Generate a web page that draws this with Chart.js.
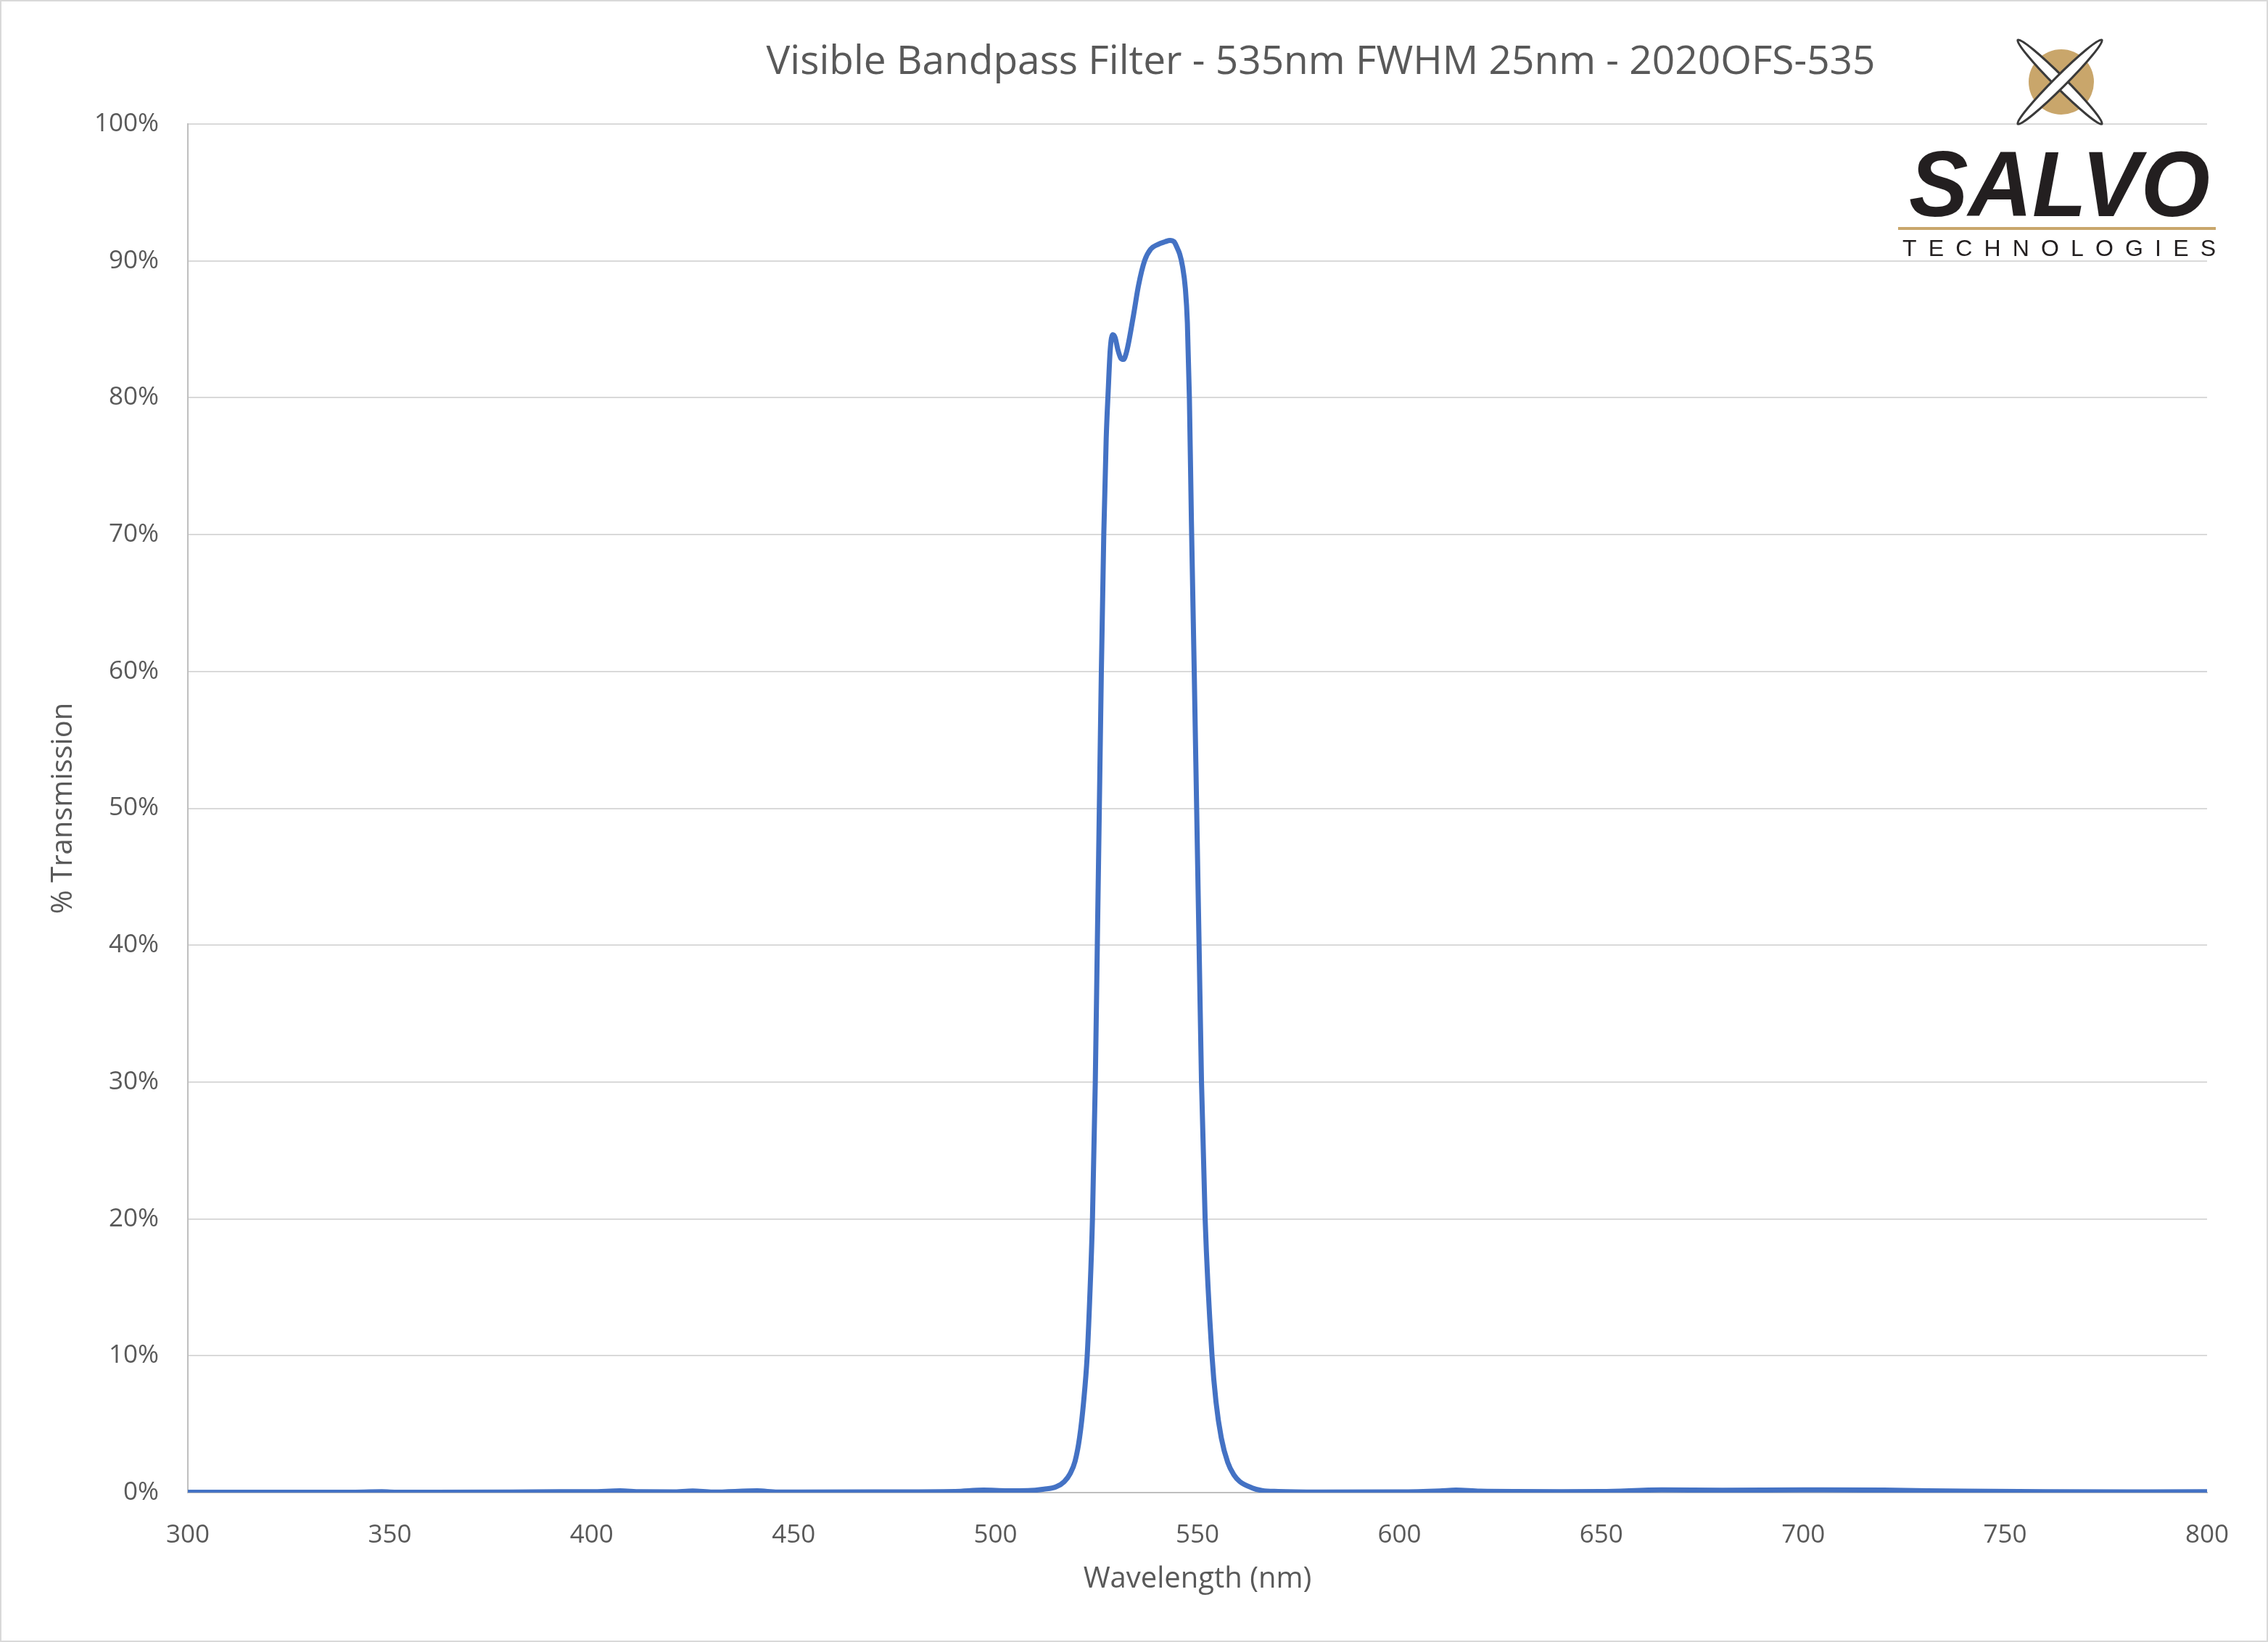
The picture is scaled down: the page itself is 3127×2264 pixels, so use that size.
<!DOCTYPE html>
<html>
<head>
<meta charset="utf-8">
<script src="https://cdn.jsdelivr.net/npm/chart.js@4.4.1/dist/chart.umd.min.js"></script>
<style>
  html, body { margin: 0; padding: 0; background: #ffffff; }
  #wrap { width: 3127px; height: 2264px; }
</style>
</head>
<body>
<div id="wrap"><canvas id="filterChart" width="3127" height="2264"></canvas></div>
<script>
const chartTitle = "Visible Bandpass Filter - 535nm FWHM 25nm - 2020OFS-535";
const xTitle = "Wavelength (nm)";
const yTitle = "% Transmission";

// wavelength in nm
const wavelength = [
    300, 320, 340, 348, 352, 380, 392, 400, 407, 412,
    420, 425, 430, 441, 446, 470, 490, 497, 503, 508,
    512, 515, 517, 518.5, 519.7, 520.8, 521.8, 522.7, 523.3, 524,
    524.7, 525.2, 525.7, 526.2, 526.8, 527.4, 527.9, 528.4, 529, 529.6,
    530.3, 531, 531.7, 532.4, 533, 534.2, 535.4, 536.9, 538.4, 540.2,
    542, 543.2, 544.2, 544.9, 545.6, 546.3, 547, 547.5, 548, 548.5,
    549.2, 549.8, 550.4, 551, 551.9, 553.6, 554.6, 555.9, 557.5, 559,
    560.5, 563.5, 566, 570, 580, 600, 610, 614, 620, 640,
    650, 665, 680, 700, 720, 740, 760, 780, 800
];

// transmission in %
const transmission = [
    0.02, 0.02, 0.03, 0.06, 0.03, 0.04, 0.07, 0.06, 0.13, 0.06,
    0.05, 0.12, 0.04, 0.13, 0.04, 0.05, 0.08, 0.18, 0.13, 0.14,
    0.25, 0.42, 0.8, 1.4, 2.3, 4.0, 6.6, 10, 14, 20,
    30, 40, 50, 60, 70, 77, 80.5, 83.5, 84.6, 84.4,
    83.5, 82.9, 82.8, 83.3, 84.1, 86.1, 88.2, 90.0, 90.85, 91.2,
    91.4, 91.5, 91.4, 91.0, 90.5, 89.6, 88, 85.5, 80, 71,
    60, 50, 40, 30, 20, 10, 6.6, 4, 2.2, 1.3,
    0.8, 0.35, 0.15, 0.08, 0.04, 0.05, 0.12, 0.18, 0.1, 0.07,
    0.08, 0.2, 0.17, 0.2, 0.18, 0.1, 0.06, 0.05, 0.06
];

const xTicks = [300, 350, 400, 450, 500, 550, 600, 650, 700, 750, 800];
const yTicks = [0, 10, 20, 30, 40, 50, 60, 70, 80, 90, 100];

const points = wavelength.map((w, i) => ({ x: w, y: transmission[i] }));

const textColor = "#595959";
const fontName = "'Open Sans', sans-serif";

// white page, thin frame, title and the logo
const decorations = {
    id: "decorations",
    beforeDraw(chart) {
        const c = chart.ctx;
        c.save();
        c.fillStyle = "#ffffff";
        c.fillRect(0, 0, chart.width, chart.height);
        c.restore();
    },
    afterDraw(chart) {
        const c = chart.ctx;
        c.save();

        c.strokeStyle = "#d9d9d9";
        c.lineWidth = 2;
        c.strokeRect(1, 1, chart.width - 2, chart.height - 2);

        c.fillStyle = textColor;
        c.font = "55px " + fontName;
        c.textAlign = "center";
        c.textBaseline = "middle";
        c.fillText(chartTitle, 1821, 86, 1561);

        // logo mark
        c.fillStyle = "#c9a66b";
        c.beginPath();
        c.arc(2842, 113, 45, 0, Math.PI * 2);
        c.fill();
        [Math.PI / 4, -Math.PI / 4].forEach(a => {
            c.beginPath();
            c.ellipse(2840, 113, 82, 8, a, 0, Math.PI * 2);
            c.fillStyle = "#ffffff";
            c.fill();
            c.lineWidth = 3;
            c.strokeStyle = "#3a3a3a";
            c.stroke();
        });

        c.fillStyle = "#231f20";
        c.font = "italic bold 128px 'Liberation Sans', sans-serif";
        c.textAlign = "left";
        c.textBaseline = "alphabetic";
        c.fillText("SALVO", 2632, 298, 415);

        c.fillStyle = "#c9a66b";
        c.fillRect(2617, 313, 438, 4);

        c.fillStyle = "#231f20";
        c.font = "32px 'Liberation Sans', sans-serif";
        const word = "TECHNOLOGIES";
        const widths = word.split("").map(ch => c.measureText(ch).width);
        const gap = (432 - widths.reduce((a, b) => a + b, 0)) / (word.length - 1);
        let x = 2623;
        word.split("").forEach((ch, i) => {
            c.fillText(ch, x, 353);
            x += widths[i] + gap;
        });

        c.restore();
    }
};

const ctx = document.getElementById("filterChart").getContext("2d");

const chart = new Chart(ctx, {
    type: "line",
    data: {
        datasets: [{
            label: "Transmission",
            data: points,
            borderColor: "#4472c4",
            borderWidth: 7,
            pointRadius: 0,
            fill: false,
            cubicInterpolationMode: "monotone"
        }]
    },
    options: {
        responsive: false,
        animation: false,
        events: [],
        layout: {
            padding: { top: 171, right: 84, left: 0, bottom: 0 }
        },
        plugins: {
            legend: { display: false },
            title: { display: false },
            tooltip: { enabled: false }
        },
        scales: {
            x: {
                type: "linear",
                min: 300,
                max: 800,
                afterBuildTicks: s => { s.ticks = xTicks.map(v => ({ value: v })); },
                afterFit: s => { s.height = 206; },
                grid: { display: false },
                border: { display: true, color: "#bfbfbf", width: 2 },
                ticks: {
                    color: textColor,
                    font: { family: fontName, size: 35 },
                    padding: 30,
                    maxRotation: 0
                },
                title: {
                    display: true,
                    text: xTitle,
                    color: textColor,
                    font: { family: fontName, size: 40 },
                    padding: { top: 0, bottom: 62 }
                }
            },
            y: {
                min: 0,
                max: 100,
                afterBuildTicks: s => { s.ticks = yTicks.map(v => ({ value: v })); },
                afterFit: s => { s.width = 259; },
                grid: { color: "#d9d9d9", lineWidth: 2, drawTicks: false },
                border: { display: true, color: "#bfbfbf", width: 2 },
                ticks: {
                    color: textColor,
                    font: { family: fontName, size: 35 },
                    padding: 40,
                    callback: v => v + "%"
                },
                title: {
                    display: true,
                    text: yTitle,
                    color: textColor,
                    font: { family: fontName, size: 40 },
                    padding: { top: 64, bottom: 0 }
                }
            }
        }
    },
    plugins: [decorations]
});
</script>
</body>
</html>
